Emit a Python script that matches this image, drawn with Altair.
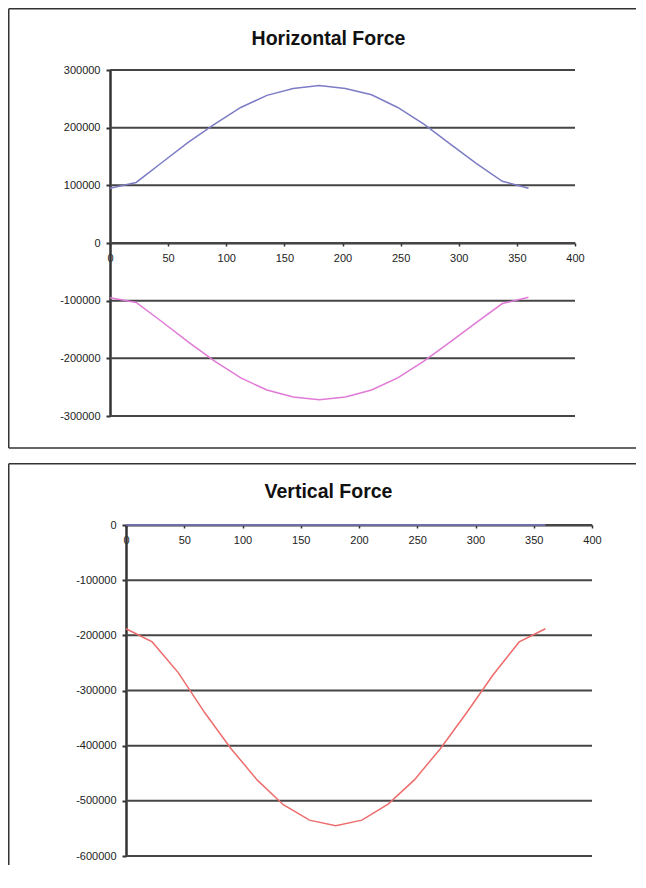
import altair as alt
import pandas as pd

# ---------------- data ----------------
angles = [0, 22.5, 45, 67.5, 90, 112.5, 135, 157.5, 180,
          202.5, 225, 247.5, 270, 292.5, 315, 337.5, 360]

horizontal_upper = [95000, 105000, 140000, 175000, 206000, 235000, 256000, 268000, 273000,
                    268000, 257000, 235000, 206000, 172000, 138000, 107000, 95000]
horizontal_lower = [-95000, -103000, -137000, -172000, -205000, -234000, -255000, -267000, -272000,
                    -267000, -255000, -234000, -205000, -172000, -138000, -105000, -94000]

vertical_upper = [0, 0, 0, 0, 0, 0, 0, 0, 0, 0, 0, 0, 0, 0, 0, 0, 0]
vertical_lower = [-188000, -212000, -268000, -340000, -405000, -462000, -507000, -535000, -545000,
                  -535000, -506000, -462000, -405000, -340000, -272000, -212000, -188000]

x_ticks = [0, 50, 100, 150, 200, 250, 300, 350, 400]
h_y_ticks = [-300000, -200000, -100000, 0, 100000, 200000, 300000]
v_y_ticks = [-600000, -500000, -400000, -300000, -200000, -100000, 0]

titles = ["Horizontal Force", "Vertical Force"]
h_series = ["h_upper", "h_lower"]
v_series = ["v_upper", "v_lower"]

h_colors = ["#7c7cc6", "#e07ad6"]
v_colors = ["#7c7cc6", "#ee6c6c"]

FONT = "Liberation Sans"
GRID = "#454545"
AXIS = "#333333"


def long_df(a, b, names):
    return pd.DataFrame({
        "angle": angles + angles,
        "force": a + b,
        "series": [names[0]] * len(angles) + [names[1]] * len(angles),
    })


def panel(df, names, colors, title, width, height, ydom, yticks, xoffset, xrange, yoffset,
          left, top, bottom, right, title_x, title_y, draw_bottom):
    xscale = alt.Scale(domain=[0, 400], range=xrange, nice=False, zero=False)
    yscale = alt.Scale(domain=ydom, nice=False, zero=False)
    xaxis = alt.Axis(values=x_ticks, title=None, grid=False, offset=xoffset,
                     labelFlush=False, labelFont=FONT, labelFontSize=11,
                     labelColor="#222222", labelPadding=6,
                     domainColor=AXIS, domainWidth=2,
                     tickColor=AXIS, tickSize=3, tickWidth=1.5)
    yaxis = alt.Axis(values=yticks, title=None, grid=False, offset=yoffset,
                     labelExpr="'' + datum.value",
                     labelFont=FONT, labelFontSize=11, labelColor="#222222",
                     labelPadding=6, domainColor=AXIS, domainWidth=2.5,
                     tickColor=AXIS, tickSize=4, tickWidth=2)

    grid_df = pd.DataFrame({
        "angle": [0] * len(yticks),
        "angle_end": [400] * len(yticks),
        "force": yticks,
    })
    gridlines = alt.Chart(grid_df).mark_rule(color=GRID, strokeWidth=2).encode(
        x=alt.X("angle:Q", scale=xscale, axis=xaxis),
        x2="angle_end:Q",
        y=alt.Y("force:Q", scale=yscale, axis=yaxis),
    )

    lines = alt.Chart(df).mark_line(strokeWidth=1.5).encode(
        x=alt.X("angle:Q", scale=xscale, axis=xaxis),
        y=alt.Y("force:Q", scale=yscale, axis=yaxis),
        color=alt.Color("series:N",
                        scale=alt.Scale(domain=names, range=colors),
                        legend=None),
    )

    deco = pd.DataFrame({"t": [title]})
    border_style = dict(color="#333333", strokeWidth=1.5)
    top_line = alt.Chart(deco).mark_rule(**border_style).encode(
        x=alt.value(left), x2=alt.value(right), y=alt.value(top))
    left_line = alt.Chart(deco).mark_rule(**border_style).encode(
        x=alt.value(left), y=alt.value(top), y2=alt.value(bottom))
    layers = [top_line, left_line]
    if draw_bottom:
        layers.append(alt.Chart(deco).mark_rule(**border_style).encode(
            x=alt.value(left), x2=alt.value(right), y=alt.value(bottom)))

    title_mark = alt.Chart(deco).mark_text(
        font=FONT, fontSize=19.5, fontWeight="bold", color="#111111",
        align="center", baseline="alphabetic").encode(
        x=alt.value(title_x), y=alt.value(title_y), text="t:N")

    return alt.layer(*layers, gridlines, lines, title_mark).properties(
        width=width, height=height)


# panel 1: data area 110..575 x 70..416 (view origin at 126 so both panels align)
p1 = panel(long_df(horizontal_upper, horizontal_lower, h_series), h_series, h_colors, titles[0],
           width=465, height=346, ydom=[-300000, 300000], yticks=h_y_ticks,
           xoffset=-173, xrange=[-16, 449], yoffset=16,
           left=-117.25, top=-61.25, bottom=378, right=510,
           title_x=202.5, title_y=-25, draw_bottom=True)

# panel 2: data area 126..592 x 525..856
p2 = panel(long_df(vertical_upper, vertical_lower, v_series), v_series, v_colors, titles[1],
           width=466, height=331, ydom=[-600000, 0], yticks=v_y_ticks,
           xoffset=-331, xrange=[0, 466], yoffset=0,
           left=-117.25, top=-61.25, bottom=340, right=510,
           title_x=202.5, title_y=-27, draw_bottom=False)

chart = alt.vconcat(p1, p2, spacing=14).resolve_scale(
    color="independent", x="independent", y="independent"
).properties(
    padding=0, background="white"
).configure_view(stroke=None)

chart.save("out.html", embed_options={"renderer": "svg", "actions": False})
